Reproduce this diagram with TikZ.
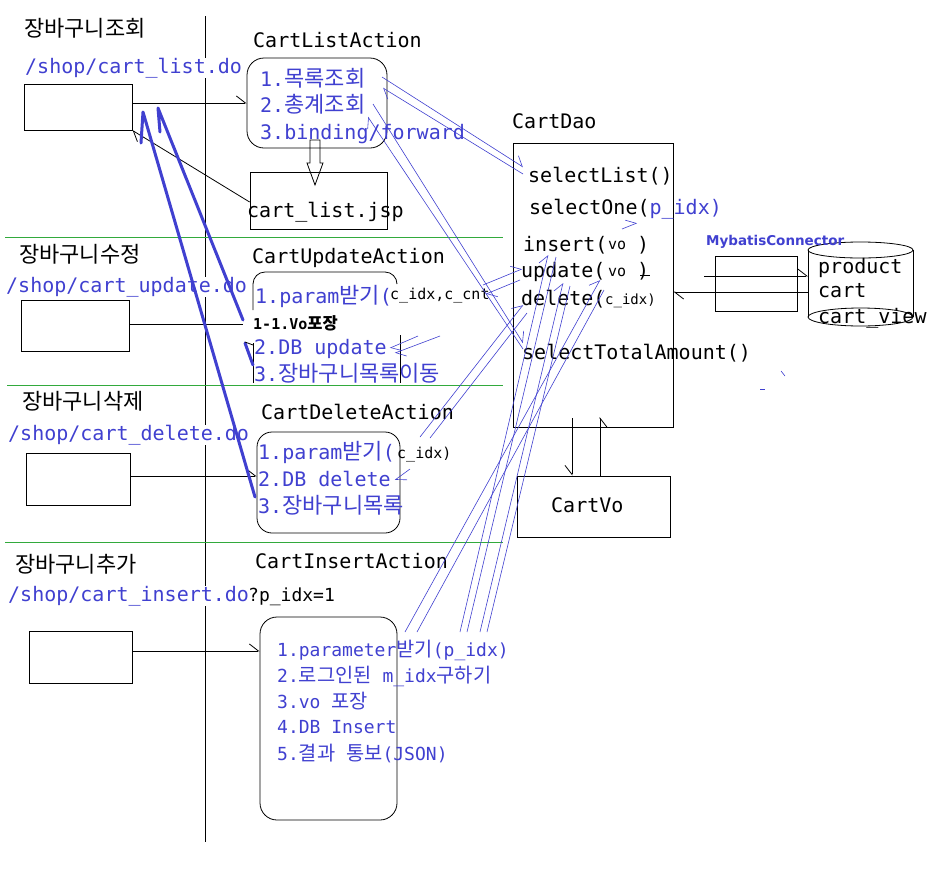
\documentclass[tikz,border=0pt]{standalone}
\usepackage{fontspec}
\setmainfont{DejaVu Sans Mono}
\newfontfamily\kr[Scale=1.1]{Noto Sans CJK KR}
\newfontfamily\mbfont{DejaVu Sans}
\usetikzlibrary{arrows.meta}
\definecolor{tb}{RGB}{64,64,208}
\definecolor{gl}{RGB}{50,170,60}
\newcommand\K[1]{{\kr #1}}
\begin{document}
\begin{tikzpicture}[x=1pt,y=-1pt,
  txt/.style={anchor=base west,inner sep=0pt,font=\fontsize{20}{24}\selectfont},
  txs/.style={anchor=base west,inner sep=0pt,font=\fontsize{15}{18}\selectfont},
  txm/.style={anchor=base west,inner sep=0pt,font=\fontsize{18}{22}\selectfont},
  bl/.style={text=tb},
  box/.style={draw,line width=0.8pt,inner sep=0pt},
  ln/.style={line width=0.8pt},
  bar/.style={-{Straight Barb[harpoon,length=9pt,width=14pt,line width=0.8pt]}},
  barS/.style={-{Straight Barb[harpoon,swap,length=9pt,width=14pt,line width=0.8pt]}},
  bline/.style={draw=tb,line width=0.6pt},
  bbar/.style={-{Straight Barb[harpoon,length=9pt,width=14pt,line width=0.6pt]}},
  tbl/.style={draw=tb,line width=3pt,line join=round,line cap=round},
]
\useasboundingbox (0,0) rectangle (938,887);
\fill[white] (0,0) rectangle (938,887);

% frame lines
\draw[ln] (205,16) -- (205,842);
\draw[gl,line width=0.8pt] (5,237) -- (503,237);
\draw[gl,line width=0.8pt] (7,385) -- (503,385);
\draw[gl,line width=0.8pt] (5,542) -- (503,542);

% boxes
\node[box,minimum width=108pt,minimum height=46pt] (b1) at (78,107) {};
\node[box,rounded corners=17pt,minimum width=140pt,minimum height=90pt] (listact) at (317,103) {};
\node[box,minimum width=137pt,minimum height=57pt] (jsp) at (318.5,200.5) {};
\node[box,minimum width=108pt,minimum height=51pt] (b2) at (75,325.5) {};
\node[box,minimum width=104pt,minimum height=52pt] (b3) at (78,479) {};
\node[box,rounded corners=15pt,minimum width=143pt,minimum height=101pt] (delact) at (328.5,482.5) {};
\node[box,minimum width=103pt,minimum height=52pt] (b4) at (80.5,657) {};
\node[box,rounded corners=17pt,minimum width=137pt,minimum height=203pt] (insact) at (328.5,718.5) {};
\node[box,minimum width=160pt,minimum height=284pt] (dao) at (593,285) {};
\node[box,minimum width=153pt,minimum height=61pt] (vo) at (593.5,506.5) {};
\node[box,minimum width=82pt,minimum height=55pt] (mb) at (756,283.5) {};

% partial update action box
\draw[ln,rounded corners=12pt] (253,310) -- (253,272) -- (397,272) -- (397,284);
\draw[ln] (253,343) -- (253,383);
\draw[ln] (400,335) -- (400,383);

% database cylinder
\coordinate (dbtop) at (860.5,250);
\coordinate (dbbot) at (860.5,317);
\draw[ln] (808,250) -- (808,317);
\draw[ln] (913,250) -- (913,317);
\draw[ln] (dbtop) ellipse [x radius=52.5, y radius=8];
\draw[ln] (dbbot) ellipse [x radius=52.5, y radius=9];

% block arrow list -> jsp
\draw[ln] (310,140) -- (320,140) -- (320,163) -- (323,163) -- (315,185) -- (307,163) -- (310,163) -- cycle;

% texts section 1
\node[txt] (t1) at (24,36) {\K{장바구니조회}};
\node[txt] (t2) at (253,47) {CartListAction};
\node[txt,bl,fill=white] (u1) at (25,73) {/shop/cart\_list.do};
\node[txt,bl] (l1) at (260,86) {1.\K{목록조회}};
\node[txt,bl] (l2) at (260,112) {2.\K{총계조회}};
\node[txt,bl] (l3) at (260,139) {3.binding/forward};
\node[txt] (jt) at (247,217) {cart\_list.jsp};

% section 2
\node[txt] (t3) at (19,262) {\K{장바구니수정}};
\node[txt,bl,fill=white] (u2) at (6,292) {/shop/cart\_update.do};
\node[txt] (t4) at (252,263) {CartUpdateAction};
\node[txt,bl] (p1) at (255,303) {1.param\K{받기}(};
\node[txs] (p1b) at (390,299) {c\_idx,c\_cnt};
\node[anchor=base west,inner sep=0pt,font=\fontsize{15}{18}\selectfont\bfseries] (p11) at (253,329) {1-1.Vo\K{포장}};
\node[txt,bl] (p2) at (254,354) {2.DB update};
\node[txt,bl] (p3) at (254,381) {3.\K{장바구니목록이동}};

% section 3
\node[txt] (t5) at (22,409) {\K{장바구니삭제}};
\node[txt,bl,fill=white] (u3) at (8,440) {/shop/cart\_delete.do};
\node[txt] (t6) at (261,419) {CartDeleteAction};
\node[txt,bl] (d1) at (258,459) {1.param\K{받기}(};
\node[txs] (d1b) at (397,458) {c\_idx)};
\node[txt,bl] (d2) at (258,486) {2.DB delete};
\node[txt,bl] (d3) at (258,513) {3.\K{장바구니목록}};

% section 4
\node[txt] (t7) at (15,572) {\K{장바구니추가}};
\node[txt] (t8) at (255,568) {CartInsertAction};
\node[txt,bl,fill=white] (u4) at (8,601) {/shop/cart\_insert.do};
\node[txm] (u4b) at (248,601) {?p\_idx=1};
\node[txm,bl] (i1) at (277,656) {1.parameter\K{받기}(p\_idx)};
\node[txm,bl] (i2) at (277,682) {2.\K{로그인된} m\_idx\K{구하기}};
\node[txm,bl] (i3) at (277,708) {3.vo \K{포장}};
\node[txm,bl] (i4) at (277,733) {4.DB Insert};
\node[txm,bl] (i5) at (277,760) {5.\K{결과} \K{통보}(JSON)};

% dao
\node[txt] (dt) at (512,128) {CartDao};
\node[txt] (m1) at (528,182) {selectList()};
\node[txt] (m2) at (529,214) {selectOne(\textcolor{tb}{p\_idx)}};
\node[txt] (m3) at (523,251) {insert(};
\node[txs] (m3v) at (608,249) {vo};
\node[txt] (m3c) at (637,251) {)};
\node[txt] (m4) at (521,277) {update(};
\node[txs] (m4v) at (608,276) {vo};
\node[txt] (m4c) at (637,277) {)};
\node[anchor=base west,inner sep=0pt,font=\fontsize{14}{17}\selectfont] (m5b) at (605,304) {c\_idx)};
\node[txt] (m5) at (521,305) {delete(};
\node[txt] (m6) at (522,359) {selectTotalAmount()};
\node[txt] (vt) at (551,512) {CartVo};
\node[anchor=base west,inner sep=0pt,text=tb,font=\fontsize{13.5}{16}\selectfont\mbfont\bfseries] (mbt) at (706,245) {MybatisConnector};
\node[txt] (db1) at (818,273) {product};
\node[txt] (db2) at (818,297) {cart};
\node[txt] (db3) at (818,323) {cart\_view};

% black connectors
\coordinate (mbin) at (704,276);
\draw[ln,bar] (b1.east |- listact.west) -- (listact.west);
\draw[ln,bar] (jsp.west |- 0,202) -- (b1.south east);
\draw[ln] (b2.east |- 0,324) -- (243,324);
\draw[ln,bar] (b3.east |- 0,476) -- (delact.west |- 0,476);
\draw[ln,bar] (b4.east |- 0,651) -- (insact.west |- 0,651);
\draw[ln,barS] (572,418) -- (572,0 |- vo.north);
\draw[ln,barS] (600,0 |- vo.north) -- (600,417);
\draw[ln,bar] (mbin) -- (808,276);
\draw[ln,bar] (808,292) -- (dao.east |- 0,292);
\draw[ln] (640,275) -- (650,275);

% thin blue connectors
\draw[bline,bbar] (382,77) -- (523,167);
\draw[bline,bbar] (523,174) -- (383,88);
\draw[bline,bbar] (373,104) -- (523,343);
\draw[bline,bbar] (523,349) -- (368,117);
\draw[bline,bbar] (483,285) -- (522,269);
\draw[bline,bbar] (520,280) -- (486,294);
\draw[bline,bbar] (418,336) -- (390,348);
\draw[bline,bbar] (440,336) -- (395,353);
\draw[bline,bbar] (420,437) -- (523,305);
\draw[bline] (430,438) -- (527,313);
\draw[bline,bbar] (410,469) -- (395,480);
\draw[bline,bbar] (405,632) -- (600,280);
\draw[bline] (417,632) -- (604,290);
\draw[bline,bbar] (460,632) -- (548,255);
\draw[bline] (467,632) -- (556,257);
\draw[bline,bbar] (480,632) -- (563,283);
\draw[bline] (487,632) -- (570,286);
\draw[bline,bbar] (622,229) -- (637,223);
\draw[bline] (781,371) -- (785,376);
\draw[bline] (760,389) -- (765,389);

% thick blue redirects
\draw[tbl] (243,320) -- (158,108) -- (160,132);
\draw[tbl] (255,497) -- (143,112) -- (141,143);
\draw[tbl] (253,365) -- (245,343);
\draw[ln] (245,342) -- (253,345);
\end{tikzpicture}
\end{document}
